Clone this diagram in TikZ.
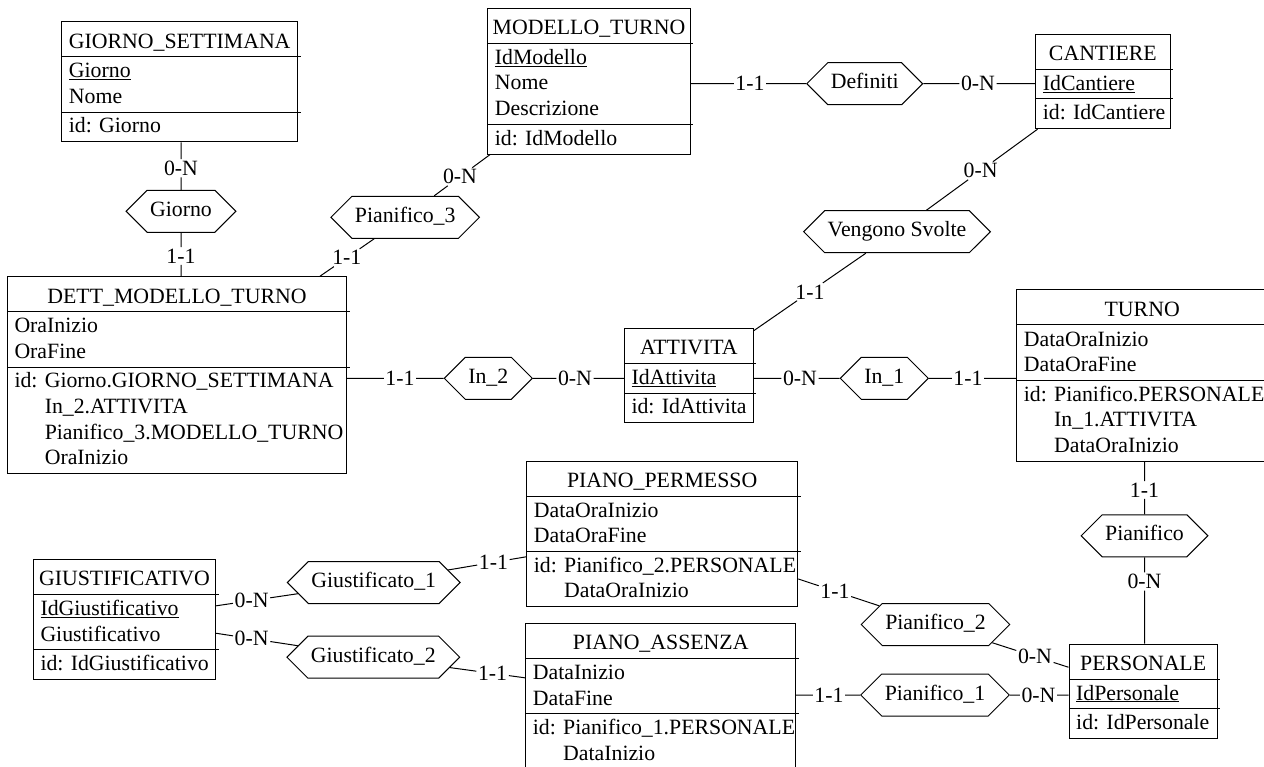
\documentclass[tikz,border=0pt]{standalone}
\usepackage{fontspec}
\setmainfont{Liberation Serif}
\usetikzlibrary{shapes.symbols,calc}

\tikzset{
  erfont/.style={font=\fontsize{21.8}{25.7}\selectfont},
  entbox/.style={draw, rectangle, line width=1pt, inner sep=0pt},
  sepline/.style={line width=1pt},
  titletext/.style={anchor=base, inner sep=0pt, erfont},
  attrtext/.style={anchor=base west, inner sep=0pt, erfont},
  reltype/.style={draw, line width=1pt, signal, signal to=east and west,
    signal pointer angle=90, minimum height=42pt, inner xsep=3pt,
    text height=14.8pt, text depth=4.7pt, erfont},
  card/.style={inner sep=1.5pt, erfont},
  link/.style={line width=1pt},
}

% Entity type: #1 name, #2 left, #3 top, #4 width, #5 title,
% #6 attribute lines, #7 identifier lines
\newcommand\entity[7]{%
  \def\entl{#2}\def\entt{#3}\def\entw{#4}%
  \node[titletext] (#1-title) at (\entl+\entw/2, \entt+26.5) {#5};
  \foreach \eattr [count=\ei] in {#6} {%
    \node[attrtext] (#1-a\ei) at (\entl+7, \entt+56+25.7*\ei-25.7) {\eattr};
    \xdef\entnattr{\ei}}%
  \pgfmathsetmacro\entsep{\entt+39+25.7*\entnattr}%
  \foreach \eid [count=\ei] in {#7} {%
    \node[attrtext] (#1-k\ei) at (\entl+7, \entsep+20.7+25.7*\ei-25.7)
      {\ifnum\ei=1 id: \else\hphantom{id: }\fi\eid};
    \xdef\entnid{\ei}}%
  \pgfmathsetmacro\entbottom{\entsep+4+25.7*\entnid}%
  \pgfmathsetmacro\enth{\entbottom-\entt}%
  \node[entbox, minimum width=\entw pt, minimum height=\enth pt] (#1)
    at (\entl+\entw/2, \entt+\enth/2) {};
  \draw[sepline] (\entl, \entt+35) -- ++(\entw+3, 0);
  \draw[sepline] (\entl, \entsep) -- ++(\entw+3, 0);
}

\begin{document}
\begin{tikzpicture}[x=1pt, y=-1pt]
\useasboundingbox (0,0) rectangle (1264,767);
\clip (0,0) rectangle (1264,767);

% entity types
\entity{gs}{61.7}{21.7}{236}{GIORNO\_SETTIMANA}{\underline{Giorno},Nome}{Giorno}
\entity{mt}{487.7}{8.3}{202.6}{MODELLO\_TURNO}{\underline{IdModello},Nome,Descrizione}{IdModello}
\entity{ca}{1035.7}{34.3}{134.3}{CANTIERE}{\underline{IdCantiere}}{IdCantiere}
\entity{dmt}{7.3}{276.7}{339.4}{DETT\_MODELLO\_TURNO}{OraInizio,OraFine}%
  {Giorno.GIORNO\_SETTIMANA,In\_2.ATTIVITA,Pianifico\_3.MODELLO\_TURNO,OraInizio}
\entity{att}{624.3}{328.3}{129}{ATTIVITA}{\underline{IdAttivita}}{IdAttivita}
\entity{tu}{1016.7}{290}{251}{TURNO}{DataOraInizio,DataOraFine}%
  {Pianifico.PERSONALE,In\_1.ATTIVITA,DataOraInizio}
\entity{pp}{526.7}{461}{271}{PIANO\_PERMESSO}{DataOraInizio,DataOraFine}%
  {Pianifico\_2.PERSONALE,DataOraInizio}
\entity{pa}{525.7}{623.3}{270}{PIANO\_ASSENZA}{DataInizio,DataFine}%
  {Pianifico\_1.PERSONALE,DataInizio}
\entity{pe}{1069}{644}{148.3}{PERSONALE}{\underline{IdPersonale}}{IdPersonale}
\entity{gi}{33.3}{559.3}{182.4}{GIUSTIFICATIVO}{\underline{IdGiustificativo},Giustificativo}{IdGiustificativo}

% relationship types
\node[reltype] (rg)   at (181,211.3)   {Giorno};
\node[reltype] (rp3)  at (405.2,217.3) {Pianifico\_3};
\node[reltype] (rdef) at (864.7,83.7)  {Definiti};
\node[reltype] (rvs)  at (897,231.7)   {Vengono Svolte};
\node[reltype] (rin2) at (488.3,378.3) {In\_2};
\node[reltype] (rin1) at (884.3,378.3) {In\_1};
\node[reltype] (rpi)  at (1144.5,535.8) {Pianifico};
\node[reltype] (rp2)  at (935.5,624.5) {Pianifico\_2};
\node[reltype] (rp1)  at (935,695)     {Pianifico\_1};
\node[reltype] (rg1)  at (373.7,582.5) {Giustificato\_1};
\node[reltype] (rg2)  at (373.3,657.2) {Giustificato\_2};

% roles with cardinalities
\node[card] (c-gs) at (181,168.3) {0-N};
\draw[link] (rg |- gs.south) -- (c-gs) -- (rg);
\node[card] (c-gd) at (181,256) {1-1};
\draw[link] (rg) -- (c-gd) -- (rg |- dmt.north);

\node[card] (c-p3d) at ($(rp3)!0.256!(dmt)$) {1-1};
\draw[link] (rp3) -- (c-p3d) -- (dmt);
\node[card] (c-p3m) at ($(rp3)!0.298!(mt)$) {0-N};
\draw[link] (rp3) -- (c-p3m) -- (mt);

\node[card] (c-mdef) at (750,83.7) {1-1};
\draw[link] (rdef) -- (c-mdef) -- (rdef -| mt.east);
\node[card] (c-defc) at (978,83.7) {0-N};
\draw[link] (rdef) -- (c-defc) -- (rdef -| ca.west);

\node[card] (c-vsc) at ($(rvs)!0.406!(ca)$) {0-N};
\draw[link] (rvs) -- (c-vsc) -- (ca);
\node[card] (c-vsa) at ($(rvs)!0.418!(att)$) {1-1};
\draw[link] (rvs) -- (c-vsa) -- (att);

\node[card] (c-di2) at (400,378.3) {1-1};
\draw[link] (rin2) -- (c-di2) -- (rin2 -| dmt.east);
\node[card] (c-i2a) at (575,378.3) {0-N};
\draw[link] (rin2) -- (c-i2a) -- (rin2 -| att.west);
\node[card] (c-ai1) at (800,378.3) {0-N};
\draw[link] (rin1) -- (c-ai1) -- (rin1 -| att.east);
\node[card] (c-i1t) at (968,378.3) {1-1};
\draw[link] (rin1) -- (c-i1t) -- (rin1 -| tu.west);

\node[card] (c-tpi) at (1144.5,490) {1-1};
\draw[link] (rpi) -- (c-tpi) -- (rpi |- tu.south);
\node[card] (c-pip) at (1144.5,581.5) {0-N};
\draw[link] (rpi) -- (c-pip) -- (rpi |- pe.north);

\node[card] (c-p2pp) at ($(rp2)!0.368!(pp)$) {1-1};
\draw[link] (rp2) -- (c-p2pp) -- (pp);
\node[card] (c-p2pe) at ($(rp2)!0.479!(pe)$) {0-N};
\draw[link] (rp2) -- (c-p2pe) -- (pe);

\node[card] (c-p1pa) at (829,695) {1-1};
\draw[link] (rp1) -- (c-p1pa) -- (rp1 -| pa.east);
\node[card] (c-p1pe) at (1038.5,695) {0-N};
\draw[link] (rp1) -- (c-p1pe) -- (rp1 -| pe.west);

\node[card] (c-g1gi) at ($(rg1)!0.49!(gi)$) {0-N};
\draw[link] (rg1) -- (c-g1gi) -- (gi);
\node[card] (c-g2gi) at ($(rg2)!0.489!(gi)$) {0-N};
\draw[link] (rg2) -- (c-g2gi) -- (gi);
\node[card] (c-g1pp) at ($(rg1)!0.415!(pp)$) {1-1};
\draw[link] (rg1) -- (c-g1pp) -- (pp);
\node[card] (c-g2pa) at ($(rg2)!0.415!(pa)$) {1-1};
\draw[link] (rg2) -- (c-g2pa) -- (pa);
\end{tikzpicture}
\end{document}
